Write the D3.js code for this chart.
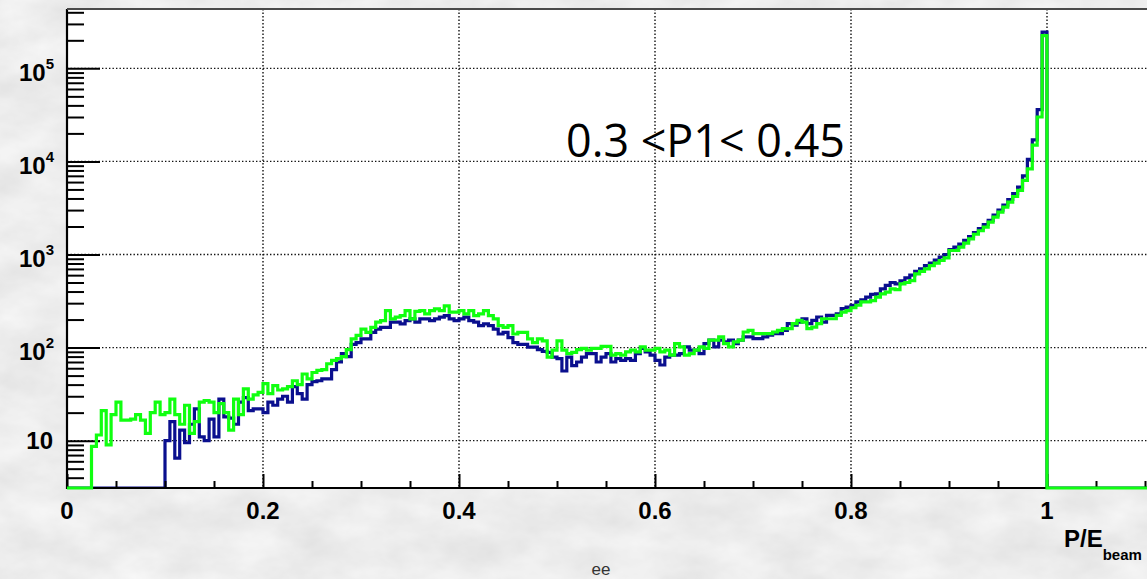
<!DOCTYPE html>
<html>
<head>
<meta charset="utf-8">
<script src="https://cdn.jsdelivr.net/npm/d3@7"></script>
<style>
  html, body { margin: 0; padding: 0; background: #d8d8d8; }
  svg { display: block; }
</style>
</head>
<body>
<svg id="chart" width="1147" height="579"></svg>
<script>
// Histogram binning along P/E_beam
const binWidth = 0.005;

// ee sample, navy histogram (entries per bin, bins of 0.005 from 0 to 1)
const navyCounts = [
  0, 0, 0, 0, 0, 0, 0, 0, 0, 0,
  0, 0, 0, 0, 0, 0, 0, 0, 0, 0,
  10, 16, 6.5, 13, 9.5, 15, 22, 11, 10, 17,
  11, 28, 18, 17.5, 15, 26, 29, 21, 22, 22,
  20, 26, 24, 28, 30, 26, 38, 32, 28, 40,
  43, 44, 46, 46, 58, 70, 86, 80, 108, 113,
  124, 124, 146, 158, 165, 165, 188, 188, 180, 195,
  203, 188, 203, 203, 195, 203, 212, 220, 203, 195,
  203, 212, 195, 188, 172, 180, 172, 158, 140, 146,
  128, 113, 108, 108, 101, 101, 95, 91, 89, 79,
  76, 56, 79, 64, 70, 79, 86, 86, 70, 79,
  86, 70, 76, 73, 76, 73, 86, 98, 90, 83,
  73, 65, 79, 83, 83, 86, 102, 94, 94, 86,
  110, 120, 102, 120, 115, 120, 110, 120, 130, 130,
  125, 125, 130, 136, 141, 141, 153, 181, 174, 188,
  204, 181, 196, 213, 188, 222, 222, 231, 262, 272,
  285, 310, 325, 348, 372, 378, 428, 465, 500, 484,
  520, 560, 600, 660, 700, 760, 810, 870, 940, 1000,
  1130, 1200, 1290, 1420, 1560, 1720, 1900, 2100, 2330, 2650,
  3000, 3400, 3900, 4500, 5300, 7000, 10500, 17000, 36000, 245000
];

// ee sample, green histogram (same binning)
const greenCounts = [
  0, 0, 0, 0, 0, 8.7, 11.5, 21, 9, 19,
  26, 16.6, 16.6, 17, 19, 16.6, 12, 20, 26, 19,
  20, 28, 19, 15, 24, 12, 16, 26, 27, 26,
  20, 25, 20, 13, 28, 19, 36, 28, 31, 33,
  41, 32, 39, 35, 36, 38, 44, 40, 52, 46,
  54, 57, 58, 67, 73, 76, 80, 95, 124, 135,
  158, 146, 165, 188, 195, 250, 203, 212, 220, 250,
  203, 245, 250, 230, 250, 260, 250, 280, 240, 240,
  250, 230, 250, 220, 230, 250, 220, 203, 172, 165,
  172, 140, 146, 146, 124, 113, 124, 118, 79, 94,
  118, 94, 86, 89, 95, 98, 94, 98, 98, 103,
  103, 83, 86, 83, 90, 94, 90, 102, 94, 94,
  98, 90, 94, 83, 110, 102, 83, 86, 94, 102,
  98, 120, 120, 130, 110, 102, 115, 120, 147, 153,
  141, 141, 141, 141, 147, 153, 160, 160, 181, 196,
  188, 160, 166, 181, 204, 204, 204, 222, 240, 250,
  268, 285, 310, 310, 320, 348, 378, 395, 428, 420,
  484, 500, 525, 620, 660, 700, 760, 807, 862, 920,
  1104, 1104, 1199, 1325, 1475, 1650, 1800, 1968, 2230, 2520,
  2850, 3228, 3650, 4200, 4876, 6245, 8333, 15000, 30000, 225000
];

// Axis ticks and labels
const xTickValues = [0, 0.2, 0.4, 0.6, 0.8, 1];
const xTickLabels = ["0", "0.2", "0.4", "0.6", "0.8", "1"];
const yDecadePowers = [1, 2, 3, 4, 5];
const yDecadeExponents = ["", "2", "3", "4", "5"];

const annotationText = "0.3 <P1< 0.45";
const xTitleMain = "P/E";
const xTitleSub = "beam";
const captionText = "ee";

// ---------------------------------------------------------------
const W = 1147, H = 579;
const frame = { left: 67, top: 9, bottom: 488 };
const xDomain = [0, 1.2];
const yDomain = [3.1, 4.34e5];

const x = d3.scaleLinear().domain(xDomain).range([frame.left, frame.left + 980 * 1.2]);
const y = d3.scaleLog().domain(yDomain).range([frame.bottom, frame.top]);

const svg = d3.select("#chart");
const defs = svg.append("defs");

// marble-like slide background
const f = defs.append("filter").attr("id", "marble")
  .attr("filterUnits", "userSpaceOnUse")
  .attr("x", 0).attr("y", 0).attr("width", W).attr("height", H);
f.append("feTurbulence").attr("type", "fractalNoise")
  .attr("baseFrequency", "0.018 0.03").attr("numOctaves", 4).attr("seed", 11);
f.append("feColorMatrix").attr("type", "matrix")
  .attr("values", "0.2 0 0 0 0.745  0.2 0 0 0 0.745  0.2 0 0 0 0.745  0 0 0 0 1");
svg.append("rect").attr("x", 0).attr("y", 0).attr("width", W).attr("height", H)
  .attr("fill", "#d8d8d8").attr("filter", "url(#marble)");

defs.append("clipPath").attr("id", "plotClip")
  .append("rect").attr("x", frame.left).attr("y", frame.top - 2)
  .attr("width", W - frame.left).attr("height", frame.bottom - frame.top + 4);
// the navy outline sits under the axis: its empty bins stay hidden
defs.append("clipPath").attr("id", "innerClip")
  .append("rect").attr("x", frame.left).attr("y", frame.top - 2)
  .attr("width", W - frame.left).attr("height", frame.bottom - frame.top + 1);

// plot area
svg.append("rect").attr("x", frame.left).attr("y", frame.top)
  .attr("width", W - frame.left).attr("height", frame.bottom - frame.top)
  .attr("fill", "#ffffff");

// dotted grid
const grid = svg.append("g").attr("stroke", "#111").attr("stroke-width", 1.4)
  .attr("stroke-dasharray", "1.4,2.1");
grid.selectAll("line.v").data(xTickValues.filter(v => v > 0)).join("line")
  .attr("x1", d => x(d)).attr("x2", d => x(d))
  .attr("y1", frame.top).attr("y2", frame.bottom);
grid.selectAll("line.h").data(yDecadePowers).join("line")
  .attr("x1", frame.left).attr("x2", W)
  .attr("y1", d => y(Math.pow(10, d))).attr("y2", d => y(Math.pow(10, d)));

// step outline of a histogram; empty bins rest on the frame bottom
function stepPoints(counts) {
  const yFloor = y.range()[0];
  const level = c => (c > yDomain[0] ? y(c) : yFloor);
  const pts = [[x(0), yFloor]];
  counts.forEach((c, i) => {
    pts.push([x(i * binWidth), level(c)], [x((i + 1) * binWidth), level(c)]);
  });
  pts.push([x(counts.length * binWidth), yFloor], [x(xDomain[1]), yFloor]);
  return pts;
}
const line = d3.line();

svg.append("g").attr("clip-path", "url(#innerClip)")
  .append("path").attr("d", line(stepPoints(navyCounts)))
  .attr("fill", "none").attr("stroke", "#0a0f8e").attr("stroke-width", 3.2)
  .attr("stroke-linejoin", "miter");

// axes: ticks point into the frame
const yMinor = [];
for (let k = 0; k <= 5; k++) {
  for (let m = 2; m <= 9; m++) {
    const v = m * Math.pow(10, k);
    if (v > yDomain[0] && v < yDomain[1]) yMinor.push(v);
  }
}
const yMajor = yDecadePowers.map(p => Math.pow(10, p));
const xMinor = d3.range(0, 1.2001, 0.05).filter(v => !xTickValues.some(t => Math.abs(t - v) < 1e-6));

function styleAxis(g) {
  g.select(".domain").remove();
  g.selectAll(".tick line").attr("stroke", "#000").attr("stroke-width", 2);
  g.selectAll(".tick text").remove();
}
svg.append("g").attr("transform", `translate(${frame.left},0)`)
  .call(d3.axisRight(y).tickValues(yMinor).tickSize(17).tickSizeOuter(0)).call(styleAxis);
svg.append("g").attr("transform", `translate(${frame.left},0)`)
  .call(d3.axisRight(y).tickValues(yMajor).tickSize(33).tickSizeOuter(0)).call(styleAxis);
svg.append("g").attr("transform", `translate(0,${frame.bottom})`)
  .call(d3.axisTop(x).tickValues(xMinor).tickSize(7).tickSizeOuter(0)).call(styleAxis);
svg.append("g").attr("transform", `translate(0,${frame.bottom})`)
  .call(d3.axisTop(x).tickValues(xTickValues).tickSize(14).tickSizeOuter(0)).call(styleAxis);

svg.append("line").attr("x1", frame.left).attr("x2", frame.left)
  .attr("y1", frame.top).attr("y2", frame.bottom + 1)
  .attr("stroke", "#000").attr("stroke-width", 2.2);
svg.append("line").attr("x1", frame.left - 1).attr("x2", W)
  .attr("y1", frame.bottom).attr("y2", frame.bottom)
  .attr("stroke", "#000").attr("stroke-width", 2.2);
svg.append("line").attr("x1", frame.left).attr("x2", W)
  .attr("y1", frame.top).attr("y2", frame.top)
  .attr("stroke", "#4a4a4a").attr("stroke-width", 2);

// green histogram drawn over the axes
svg.append("g").attr("clip-path", "url(#plotClip)")
  .append("path").attr("d", line(stepPoints(greenCounts)))
  .attr("fill", "none").attr("stroke", "#10ff10").attr("stroke-width", 3.2)
  .attr("stroke-linejoin", "miter");

// tick labels
const labelFont = "'Liberation Sans', Arial, Helvetica, sans-serif";
svg.append("g").selectAll("text").data(xTickValues).join("text")
  .attr("x", d => x(d)).attr("y", 519)
  .attr("text-anchor", "middle")
  .attr("font-family", labelFont).attr("font-weight", "bold").attr("font-size", 24)
  .text((d, i) => xTickLabels[i]);

const yl = svg.append("g").attr("font-family", labelFont).attr("font-weight", "bold");
yDecadePowers.forEach((p, i) => {
  const gy = y(Math.pow(10, p));
  const exp = yDecadeExponents[i];
  const t = yl.append("text").attr("text-anchor", "end").attr("font-size", 24);
  if (exp === "") {
    t.attr("x", 53).attr("y", gy + 8.5).text("10");
  } else {
    t.attr("x", 54).attr("y", gy + 12.5);
    t.append("tspan").text("10");
    t.append("tspan").attr("dy", -12).attr("font-size", 15).text(exp);
  }
});

// axis title with subscript
const xt = svg.append("text").attr("x", 1064).attr("y", 547)
  .attr("font-family", labelFont).attr("font-weight", "bold").attr("font-size", 24);
xt.append("tspan").text(xTitleMain);
xt.append("tspan").attr("dy", 13).attr("font-size", 15).text(xTitleSub);

// caption under the frame
svg.append("text").attr("x", 601).attr("y", 575).attr("text-anchor", "middle")
  .attr("font-family", labelFont).attr("font-size", 17).attr("fill", "#333")
  .text(captionText);

// selection annotation
svg.append("text").attr("x", 566).attr("y", 157)
  .attr("font-family", "'Open Sans', 'Noto Sans', sans-serif").attr("font-size", 46)
  .attr("textLength", 279).attr("lengthAdjust", "spacingAndGlyphs")
  .attr("fill", "#000")
  .text(annotationText);
</script>
</body>
</html>
